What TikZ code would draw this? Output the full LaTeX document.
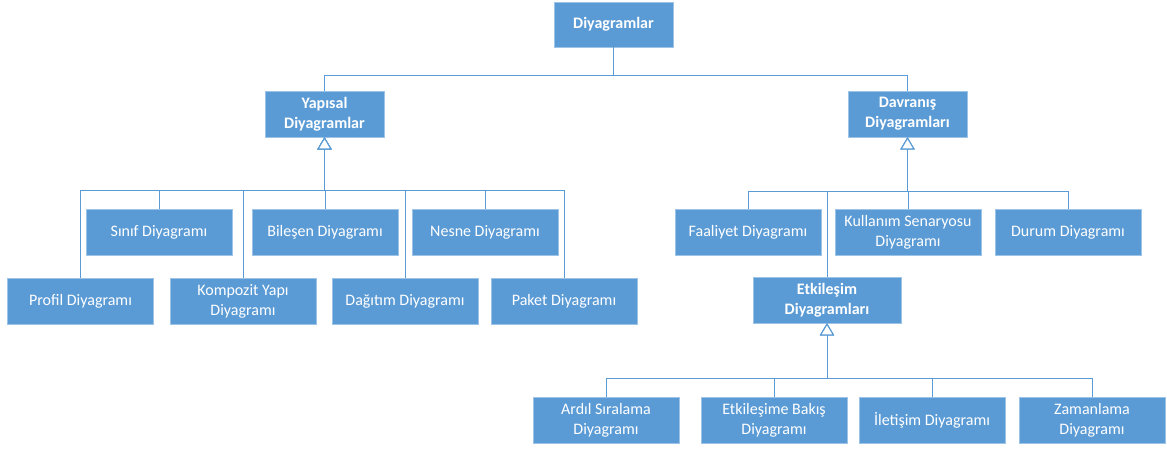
\documentclass[tikz,border=0pt]{standalone}
\usepackage{fontspec}
\setmainfont{Carlito}
\usetikzlibrary{arrows.meta}
\definecolor{ofisblue}{HTML}{5B9BD5}
\tikzset{
  box/.style = {rectangle, fill=ofisblue, draw=ofisblue!60!white,
                line width=0.6pt, text=white, align=center, inner sep=0,
                minimum height=46pt, font=\fontsize{16}{20}\selectfont},
  leaf/.style = {box, minimum width=146pt},
  group/.style = {box, minimum width=119pt,
                  font=\fontsize{16}{20}\selectfont\bfseries},
  link/.style = {draw=ofisblue, line width=1pt},
  inherit/.style = {link, -{Triangle[open, fill=white, length=12pt, width=14pt]}},
}

\begin{document}
\begin{tikzpicture}[x=1pt, y=-1pt]
\useasboundingbox (0,0) rectangle (1167,448);
% bus lines
\coordinate (tbus) at (0,75);
\coordinate (lbus) at (0,190);
\coordinate (rbus) at (0,191);
\coordinate (ebus) at (0,378);

\node[group, minimum height=45pt] (root) at (613.5,24.5) {Diyagramlar};
\node[group] (yap) at (324.5,114) {Yapısal\\Diyagramlar};
\node[group] (dav) at (907.5,114) {Davranış\\Diyagramları};

% structure diagrams
\node[leaf] (sinif)    at (159,232) {Sınıf Diyagramı};
\node[leaf] (bilesen)  at (325,232) {Bileşen Diyagramı};
\node[leaf] (nesne)    at (485,232) {Nesne Diyagramı};
\node[leaf] (profil)   at (80.5,301) {Profil Diyagramı};
\node[leaf] (kompozit) at (243,301) {Kompozit Yapı\\Diyagramı};
\node[leaf] (dagitim)  at (405,301) {Dağıtım Diyagramı};
\node[leaf] (paket)    at (564,301) {Paket Diyagramı};

% behaviour diagrams
\node[leaf] (faaliyet) at (748,232) {Faaliyet Diyagramı};
\node[leaf] (kullanim) at (908,232) {Kullanım Senaryosu\\Diyagramı};
\node[leaf] (durum)    at (1068,232) {Durum Diyagramı};
\node[group, minimum width=148pt] (etk) at (827,300) {Etkileşim\\Diyagramları};

% interaction diagrams
\node[leaf] (ardil)    at (606,420.5) {Ardıl Sıralama\\Diyagramı};
\node[leaf] (bakis)    at (774,420.5) {Etkileşime Bakış\\Diyagramı};
\node[leaf] (iletisim) at (932,420.5) {İletişim Diyagramı};
\node[leaf] (zaman)    at (1092,420.5) {Zamanlama\\Diyagramı};

\foreach \n in {yap,dav}
  \draw[link] (\n.north) -- (\n.north |- tbus) -| (root.south);
\foreach \n in {sinif,bilesen,nesne,profil,kompozit,dagitim,paket}
  \draw[inherit] (\n.north) -- (\n.north |- lbus) -| (yap.south);
\foreach \n in {faaliyet,kullanim,durum,etk}
  \draw[inherit] (\n.north) -- (\n.north |- rbus) -| (dav.south);
\foreach \n in {ardil,bakis,iletisim,zaman}
  \draw[inherit] (\n.north) -- (\n.north |- ebus) -| (etk.south);
\end{tikzpicture}
\end{document}
